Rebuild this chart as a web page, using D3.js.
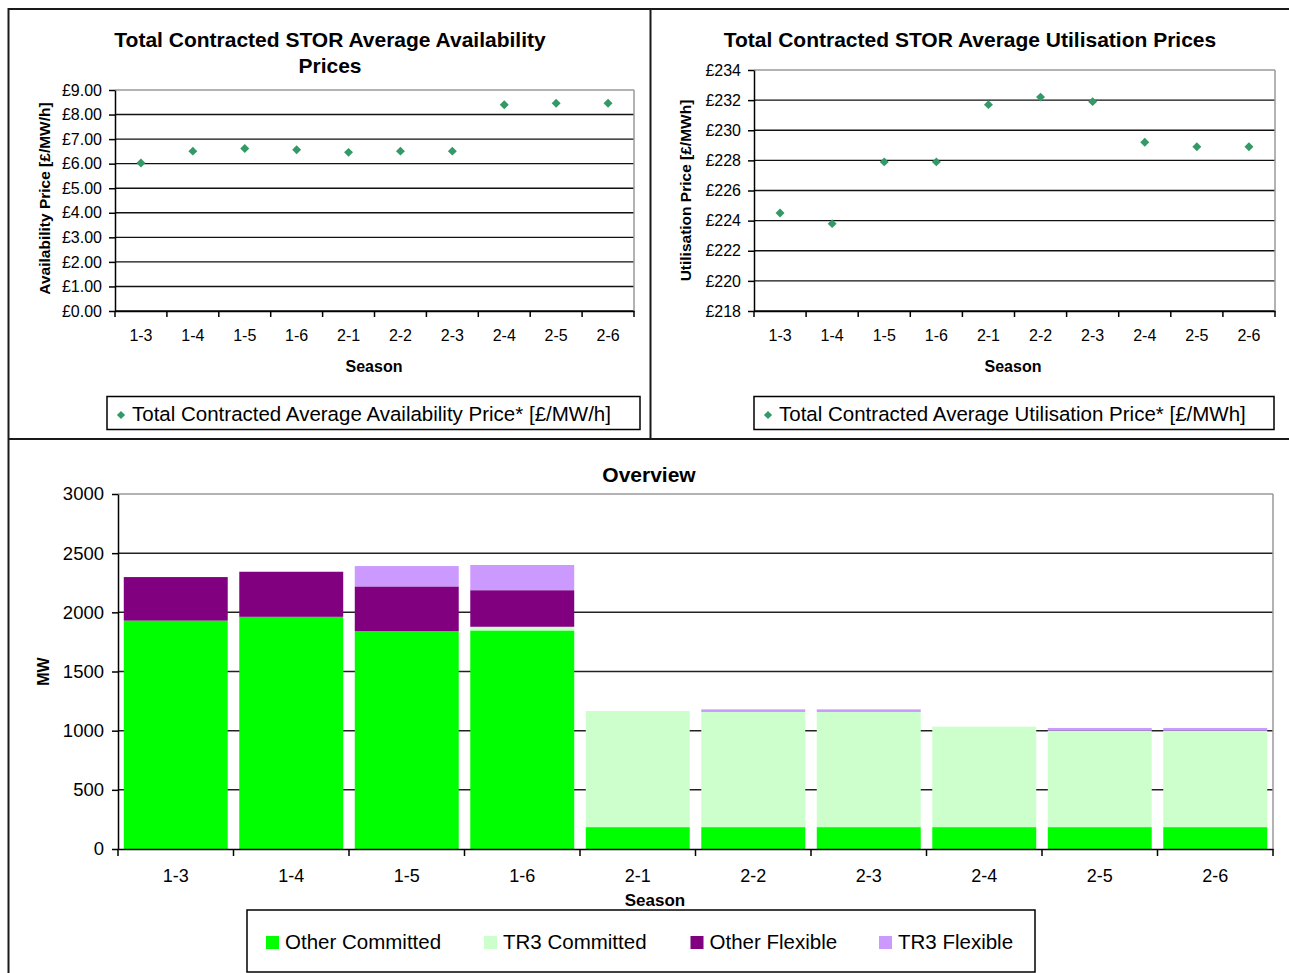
<!DOCTYPE html>
<html>
<head>
<meta charset="utf-8">
<script src="https://cdn.jsdelivr.net/npm/d3@7"></script>
<style>
  body { margin: 0; background: #fff; }
  text { font-family: "Liberation Sans", Arial, sans-serif; fill: #000; }
</style>
</head>
<body>
<svg id="chart"></svg>
<script>
// Data
const seasons = ["1-3", "1-4", "1-5", "1-6", "2-1", "2-2", "2-3", "2-4", "2-5", "2-6"];

const availPrice = [6.03, 6.51, 6.62, 6.57, 6.46, 6.51, 6.51, 8.40, 8.46, 8.46];
const utilPrice = [224.5, 223.8, 227.9, 227.9, 231.7, 232.2, 231.9, 229.2, 228.9, 228.9];

const availTicks = [0, 1, 2, 3, 4, 5, 6, 7, 8, 9];
const utilTicks = [218, 220, 222, 224, 226, 228, 230, 232, 234];
const mwTicks = [0, 500, 1000, 1500, 2000, 2500, 3000];

const otherCommitted = [1930, 1962, 1841, 1847, 185, 185, 185, 185, 185, 185];
const tr3Committed = [0, 0, 0, 31, 981, 973, 973, 849, 815, 815];
const otherFlexible = [368, 381, 378, 309, 0, 0, 0, 0, 0, 0];
const tr3Flexible = [0, 0, 172, 213, 0, 22, 22, 0, 23, 23];

const seriesNames = ["Other Committed", "TR3 Committed", "Other Flexible", "TR3 Flexible"];
const seriesColors = ["#00ff00", "#ccffcc", "#800080", "#cc99ff"];

const width = 1289;
const height = 973;
const font = '"Liberation Sans", Arial, sans-serif';

const svg = d3.select("#chart").attr("width", width).attr("height", height);

// outer frame and panel dividers
svg.append("rect")
  .attr("x", 8.5).attr("y", 9).attr("width", 1300).attr("height", 1000)
  .attr("fill", "none").attr("stroke", "#1a1a1a").attr("stroke-width", 2);
svg.append("line")
  .attr("x1", 650.5).attr("x2", 650.5).attr("y1", 9).attr("y2", 439)
  .attr("stroke", "#1a1a1a").attr("stroke-width", 2);
svg.append("line")
  .attr("x1", 8.5).attr("x2", width).attr("y1", 439).attr("y2", 439)
  .attr("stroke", "#1a1a1a").attr("stroke-width", 2);

// diamond marker (square turned 45deg)
const diamond = (size) => d3.symbol(d3.symbolSquare, size)();

function styleAxis(sel, fs) {
  sel.attr("font-size", fs).attr("font-family", font);
  sel.selectAll("text").attr("fill", "#000");
  sel.select(".domain").attr("stroke", "#000").attr("stroke-width", 1.5);
  sel.selectAll(".tick line").attr("stroke", "#000").attr("stroke-width", 1.5);
}

// SCATTER PANELS
function drawScatter(o) {
  const g = svg.append("g");

  const x = d3.scaleBand().domain(seasons).range([o.x0, o.x1]);
  const y = d3.scaleLinear().domain(o.domain).range([o.y1, o.y0]);

  // gridlines
  g.append("g")
    .selectAll("line")
    .data(o.ticks)
    .join("line")
    .attr("x1", o.x0).attr("x2", o.x1)
    .attr("y1", (d) => y(d)).attr("y2", (d) => y(d))
    .attr("stroke", (d) => (d === o.domain[1] ? "#9a9a9a" : "#111"))
    .attr("stroke-width", (d) => (d === o.domain[1] ? 1.5 : 1.4));

  // plot area right edge
  g.append("line")
    .attr("x1", o.x1).attr("x2", o.x1).attr("y1", o.y0).attr("y2", o.y1)
    .attr("stroke", "#9a9a9a").attr("stroke-width", 1.5);

  // y axis
  g.append("g")
    .attr("transform", `translate(${o.x0},0)`)
    .call(d3.axisLeft(y).tickValues(o.ticks).tickFormat(o.fmt).tickSize(6).tickSizeOuter(0).tickPadding(7))
    .call((s) => styleAxis(s, 16));

  // x axis, labels at centres, ticks at category boundaries
  g.append("g")
    .attr("transform", `translate(0,${o.y1})`)
    .call(d3.axisBottom(x).tickSize(0).tickPadding(19))
    .call((s) => styleAxis(s, 16));

  g.append("g")
    .selectAll("line")
    .data(seasons.concat(["end"]))
    .join("line")
    .attr("x1", (d) => (d === "end" ? o.x1 : x(d)))
    .attr("x2", (d) => (d === "end" ? o.x1 : x(d)))
    .attr("y1", o.y1).attr("y2", o.y1 + 6)
    .attr("stroke", "#000").attr("stroke-width", 1.5);

  // points
  g.append("g")
    .selectAll("path")
    .data(o.values)
    .join("path")
    .attr("d", diamond(40))
    .attr("transform", (d, i) => `translate(${x(seasons[i]) + x.bandwidth() / 2},${y(d)}) rotate(45)`)
    .attr("fill", "#339966");

  // title
  o.title.forEach((t, i) => {
    g.append("text")
      .attr("x", o.titleX).attr("y", 47 + i * 26)
      .attr("text-anchor", "middle")
      .attr("font-size", 21).attr("font-weight", "bold")
      .text(t);
  });

  // y label
  g.append("text")
    .attr("transform", `translate(${o.yLabelX},${(o.y0 + o.y1) / 2 + o.yLabelShift}) rotate(-90)`)
    .attr("text-anchor", "middle")
    .attr("font-size", 15.5).attr("font-weight", "bold")
    .text(o.yLabel);

  // x label
  g.append("text")
    .attr("x", o.seasonX).attr("y", 372)
    .attr("text-anchor", "middle")
    .attr("font-size", 16).attr("font-weight", "bold")
    .text("Season");

  // legend
  g.append("rect")
    .attr("x", o.legX0).attr("y", 396.5)
    .attr("width", o.legX1 - o.legX0).attr("height", 33)
    .attr("fill", "#fff").attr("stroke", "#000").attr("stroke-width", 1.5);
  g.append("path")
    .attr("d", diamond(34))
    .attr("transform", `translate(${o.legX0 + 14},415) rotate(45)`)
    .attr("fill", "#339966");
  g.append("text")
    .attr("x", o.legX0 + 25).attr("y", 421)
    .attr("font-size", 20.5)
    .text(o.legend);
}

drawScatter({
  x0: 115, x1: 634, y0: 90, y1: 311,
  domain: [0, 9], ticks: availTicks,
  fmt: (d) => "£" + d.toFixed(2),
  values: availPrice,
  title: ["Total Contracted STOR Average Availability", "Prices"],
  titleX: 330,
  yLabel: "Availability Price [£/MW/h]", yLabelX: 50, yLabelShift: -2,
  seasonX: 374,
  legX0: 107, legX1: 640,
  legend: "Total Contracted Average Availability Price* [£/MW/h]"
});

drawScatter({
  x0: 754, x1: 1275, y0: 70, y1: 311,
  domain: [218, 234], ticks: utilTicks,
  fmt: (d) => "£" + d,
  values: utilPrice,
  title: ["Total Contracted STOR Average Utilisation Prices"],
  titleX: 970,
  yLabel: "Utilisation Price [£/MWh]", yLabelX: 691, yLabelShift: 0,
  seasonX: 1013,
  legX0: 754, legX1: 1274,
  legend: "Total Contracted Average Utilisation Price* [£/MWh]"
});

// OVERVIEW STACKED BARS
const bx0 = 118, bx1 = 1273, by0 = 494, by1 = 849;

const xb = d3.scaleBand().domain(seasons).range([bx0, bx1]).paddingInner(0.1).paddingOuter(0.05);
const yb = d3.scaleLinear().domain([0, 3000]).range([by1, by0]);

const rows = seasons.map((s, i) => ({
  season: s,
  "Other Committed": otherCommitted[i],
  "TR3 Committed": tr3Committed[i],
  "Other Flexible": otherFlexible[i],
  "TR3 Flexible": tr3Flexible[i]
}));
const stacked = d3.stack().keys(seriesNames)(rows);
const color = d3.scaleOrdinal().domain(seriesNames).range(seriesColors);

const gb = svg.append("g");

// gridlines (behind bars)
gb.append("g")
  .selectAll("line")
  .data(mwTicks.filter((d) => d > 0))
  .join("line")
  .attr("x1", bx0).attr("x2", bx1)
  .attr("y1", (d) => yb(d)).attr("y2", (d) => yb(d))
  .attr("stroke", (d) => (d === 3000 ? "#9a9a9a" : "#222"))
  .attr("stroke-width", 1.5);

gb.append("line")
  .attr("x1", bx1).attr("x2", bx1).attr("y1", by0).attr("y2", by1)
  .attr("stroke", "#9a9a9a").attr("stroke-width", 1.5);

// bars
gb.append("g")
  .selectAll("g")
  .data(stacked)
  .join("g")
  .attr("fill", (d) => color(d.key))
  .selectAll("rect")
  .data((d) => d.filter((v) => v[1] - v[0] > 0))
  .join("rect")
  .attr("x", (d) => xb(d.data.season))
  .attr("y", (d) => yb(d[1]))
  .attr("width", xb.bandwidth())
  .attr("height", (d) => yb(d[0]) - yb(d[1]));

// axes
gb.append("g")
  .attr("transform", `translate(${bx0},0)`)
  .call(d3.axisLeft(yb).tickValues(mwTicks).tickFormat(d3.format("d")).tickSize(6).tickSizeOuter(0).tickPadding(8))
  .call((s) => styleAxis(s, 18.5));

gb.append("g")
  .attr("transform", `translate(0,${by1})`)
  .call(d3.axisBottom(xb).tickSize(0).tickPadding(20))
  .call((s) => styleAxis(s, 18));

const step = xb.step();
gb.append("g")
  .selectAll("line")
  .data(seasons.concat(["end"]))
  .join("line")
  .attr("x1", (d) => (d === "end" ? bx1 : xb(d) - (step * xb.paddingInner()) / 2))
  .attr("x2", (d) => (d === "end" ? bx1 : xb(d) - (step * xb.paddingInner()) / 2))
  .attr("y1", by1).attr("y2", by1 + 7)
  .attr("stroke", "#000").attr("stroke-width", 1.5);

// titles
gb.append("text")
  .attr("x", 649).attr("y", 482)
  .attr("text-anchor", "middle")
  .attr("font-size", 21).attr("font-weight", "bold")
  .text("Overview");

gb.append("text")
  .attr("x", 655).attr("y", 906)
  .attr("text-anchor", "middle")
  .attr("font-size", 17).attr("font-weight", "bold")
  .text("Season");

gb.append("text")
  .attr("transform", `translate(49,${(by0 + by1) / 2}) rotate(-90)`)
  .attr("text-anchor", "middle")
  .attr("font-size", 16).attr("font-weight", "bold")
  .text("MW");

// legend
const legendX = [266, 484, 690.5, 879];
const leg = gb.append("g");
leg.append("rect")
  .attr("x", 247).attr("y", 910)
  .attr("width", 788).attr("height", 62)
  .attr("fill", "#fff").attr("stroke", "#000").attr("stroke-width", 1.5);

const items = leg.selectAll("g.item")
  .data(seriesNames)
  .join("g")
  .attr("class", "item")
  .attr("transform", (d, i) => `translate(${legendX[i]},0)`);
items.append("rect")
  .attr("x", 0).attr("y", 936)
  .attr("width", 13).attr("height", 13)
  .attr("fill", (d) => color(d));
items.append("text")
  .attr("x", 19).attr("y", 949)
  .attr("font-size", 20.5)
  .text((d) => d);
</script>
</body>
</html>
